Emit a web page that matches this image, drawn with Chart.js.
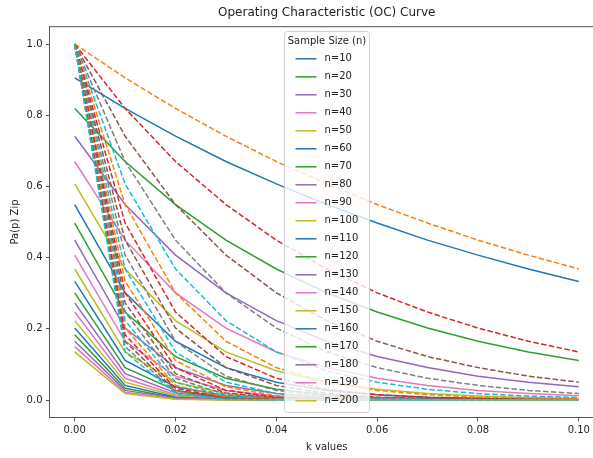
<!DOCTYPE html>
<html>
<head>
<meta charset="utf-8">
<script src="https://cdn.jsdelivr.net/npm/chart.js@4/dist/chart.umd.min.js"></script>
<style>
html, body { margin: 0; padding: 0; background: #fff; overflow: hidden; }
#wrap { width: 593px; height: 458px; overflow: hidden; position: relative; }
#oc { position: absolute; left: 0; top: 0; }
</style>
</head>
<body>
<div id="wrap"><canvas id="oc" width="640" height="458"></canvas></div>
<script>
var kValues = [0, 0.01, 0.02, 0.03, 0.04, 0.05, 0.06, 0.07, 0.08, 0.09, 0.1];
var sampleSizes = [10, 20, 30, 40, 50, 60, 70, 80, 90, 100, 110, 120, 130, 140, 150, 160, 170, 180, 190, 200];
var xTicks = [0, 0.02, 0.04, 0.06, 0.08, 0.1];
var yTicks = [0, 0.2, 0.4, 0.6, 0.8, 1.0];

// solid curves, one per sample size (in legend)
var paSolid = [
  [0.905, 0.819, 0.741, 0.670, 0.607, 0.549, 0.497, 0.449, 0.407, 0.368, 0.333],
  [0.819, 0.670, 0.549, 0.449, 0.368, 0.301, 0.247, 0.202, 0.165, 0.135, 0.111],
  [0.741, 0.549, 0.407, 0.301, 0.223, 0.165, 0.122, 0.091, 0.067, 0.050, 0.037],
  [0.670, 0.449, 0.301, 0.202, 0.135, 0.091, 0.061, 0.041, 0.027, 0.018, 0.012],
  [0.607, 0.368, 0.223, 0.135, 0.082, 0.050, 0.030, 0.018, 0.011, 0.007, 0.004],
  [0.549, 0.301, 0.165, 0.091, 0.050, 0.027, 0.015, 0.008, 0.005, 0.002, 0.001],
  [0.497, 0.247, 0.122, 0.061, 0.030, 0.015, 0.007, 0.004, 0.002, 0.001, 0],
  [0.449, 0.202, 0.091, 0.041, 0.018, 0.008, 0.004, 0.002, 0.001, 0, 0],
  [0.407, 0.165, 0.067, 0.027, 0.011, 0.005, 0.002, 0.001, 0, 0, 0],
  [0.368, 0.135, 0.050, 0.018, 0.007, 0.002, 0.001, 0, 0, 0, 0],
  [0.333, 0.111, 0.037, 0.012, 0.004, 0.001, 0, 0, 0, 0, 0],
  [0.301, 0.091, 0.027, 0.008, 0.002, 0.001, 0, 0, 0, 0, 0],
  [0.273, 0.074, 0.020, 0.006, 0.002, 0, 0, 0, 0, 0, 0],
  [0.247, 0.061, 0.015, 0.004, 0.001, 0, 0, 0, 0, 0, 0],
  [0.223, 0.050, 0.011, 0.002, 0.001, 0, 0, 0, 0, 0, 0],
  [0.202, 0.041, 0.008, 0.002, 0, 0, 0, 0, 0, 0, 0],
  [0.183, 0.033, 0.006, 0.001, 0, 0, 0, 0, 0, 0, 0],
  [0.165, 0.027, 0.005, 0.001, 0, 0, 0, 0, 0, 0, 0],
  [0.150, 0.022, 0.003, 0.001, 0, 0, 0, 0, 0, 0, 0],
  [0.135, 0.018, 0.002, 0, 0, 0, 0, 0, 0, 0, 0]
];

// dashed curves (no legend entry)
var paDashed = [
  [1, 0.905, 0.819, 0.741, 0.670, 0.607, 0.549, 0.497, 0.449, 0.407, 0.368],
  [1, 0.819, 0.670, 0.549, 0.449, 0.368, 0.301, 0.247, 0.202, 0.165, 0.135],
  [1, 0.741, 0.549, 0.407, 0.301, 0.223, 0.165, 0.122, 0.091, 0.067, 0.050],
  [1, 0.670, 0.449, 0.301, 0.202, 0.135, 0.091, 0.061, 0.041, 0.027, 0.018],
  [1, 0.607, 0.368, 0.223, 0.135, 0.082, 0.050, 0.030, 0.018, 0.011, 0.007],
  [1, 0.549, 0.301, 0.165, 0.091, 0.050, 0.027, 0.015, 0.008, 0.005, 0.002],
  [1, 0.497, 0.247, 0.122, 0.061, 0.030, 0.015, 0.007, 0.004, 0.002, 0.001],
  [1, 0.449, 0.202, 0.091, 0.041, 0.018, 0.008, 0.004, 0.002, 0.001, 0],
  [1, 0.407, 0.165, 0.067, 0.027, 0.011, 0.005, 0.002, 0.001, 0, 0],
  [1, 0.368, 0.135, 0.050, 0.018, 0.007, 0.002, 0.001, 0, 0, 0],
  [1, 0.333, 0.111, 0.037, 0.012, 0.004, 0.001, 0, 0, 0, 0],
  [1, 0.301, 0.091, 0.027, 0.008, 0.002, 0.001, 0, 0, 0, 0],
  [1, 0.273, 0.074, 0.020, 0.006, 0.002, 0, 0, 0, 0, 0],
  [1, 0.247, 0.061, 0.015, 0.004, 0.001, 0, 0, 0, 0, 0],
  [1, 0.223, 0.050, 0.011, 0.002, 0.001, 0, 0, 0, 0, 0],
  [1, 0.202, 0.041, 0.008, 0.002, 0, 0, 0, 0, 0, 0],
  [1, 0.183, 0.033, 0.006, 0.001, 0, 0, 0, 0, 0, 0],
  [1, 0.165, 0.027, 0.005, 0.001, 0, 0, 0, 0, 0, 0],
  [1, 0.150, 0.022, 0.003, 0.001, 0, 0, 0, 0, 0, 0],
  [1, 0.135, 0.018, 0.002, 0, 0, 0, 0, 0, 0, 0]
];

var tab10 = ['#1f77b4', '#ff7f0e', '#2ca02c', '#d62728', '#9467bd', '#8c564b', '#e377c2', '#7f7f7f', '#bcbd22', '#17becf'];
var fontFamily = '"DejaVu Sans", sans-serif';

function toPoints(arr) {
    return arr.map(function (v, i) { return { x: kValues[i], y: v }; });
}

var datasets = [];
sampleSizes.forEach(function (n, i) {
    datasets.push({
        label: 'n=' + n,
        data: toPoints(paSolid[i]),
        borderColor: tab10[(2 * i) % 10],
        borderWidth: 1.5,
        pointRadius: 0,
        tension: 0,
        order: -datasets.length
    });
    datasets.push({
        label: '',
        data: toPoints(paDashed[i]),
        borderColor: tab10[(2 * i + 1) % 10],
        borderWidth: 1.5,
        borderDash: [5.5, 2.4],
        pointRadius: 0,
        tension: 0,
        order: -datasets.length
    });
});

// matplotlib style legend in upper center + top spine
var legendBox = {
    id: 'legendBox',
    afterDraw: function (chart) {
        var ctx = chart.ctx, area = chart.chartArea;
        ctx.save();
        ctx.strokeStyle = '#555';
        ctx.lineWidth = 1;
        ctx.beginPath();
        ctx.moveTo(area.left, area.top + 0.5);
        ctx.lineTo(area.right, area.top + 0.5);
        ctx.stroke();

        var items = chart.data.datasets.filter(function (d) { return d.label; });
        var w = 85, rowH = 18, top = Math.round(area.top + 5) + 0.5;
        var h = 27.3 + rowH * (items.length - 1) + 11.7;
        var left = Math.round((area.left + area.right) / 2 - w / 2) + 0.5;
        var r = 3;
        ctx.beginPath();
        ctx.moveTo(left + r, top);
        ctx.arcTo(left + w, top, left + w, top + h, r);
        ctx.arcTo(left + w, top + h, left, top + h, r);
        ctx.arcTo(left, top + h, left, top, r);
        ctx.arcTo(left, top, left + w, top, r);
        ctx.closePath();
        ctx.fillStyle = 'rgba(255,255,255,0.8)';
        ctx.fill();
        ctx.strokeStyle = '#d0d0d0';
        ctx.stroke();

        ctx.font = '10px ' + fontFamily;
        ctx.fillStyle = '#222';
        ctx.textAlign = 'center';
        ctx.textBaseline = 'middle';
        ctx.fillText('Sample Size (n)', left + w / 2, top + 9.7);
        ctx.textAlign = 'left';
        items.forEach(function (d, i) {
            var y = top + 27.3 + i * rowH;
            ctx.strokeStyle = d.borderColor;
            ctx.lineWidth = 1.5;
            ctx.beginPath();
            ctx.moveTo(left + 11, y);
            ctx.lineTo(left + 32, y);
            ctx.stroke();
            ctx.fillText(d.label, left + 40, y);
        });
        ctx.restore();
    }
};

var ctx = document.getElementById('oc').getContext('2d');
var ocChart = new Chart(ctx, {
    type: 'line',
    data: { datasets: datasets },
    options: {
        responsive: false,
        animation: false,
        devicePixelRatio: 1,
        layout: { padding: { left: 0, top: 0, right: 36, bottom: 0 } },
        plugins: {
            legend: { display: false },
            tooltip: { enabled: false },
            title: {
                display: true,
                text: 'Operating Characteristic (OC) Curve',
                color: '#222',
                fullSize: false,
                font: { family: fontFamily, size: 12, weight: 'normal' },
                padding: { top: 5.8, bottom: 6 }
            }
        },
        scales: {
            x: {
                type: 'linear',
                min: -0.005,
                max: 0.105,
                afterBuildTicks: function (s) { s.ticks = xTicks.map(function (v) { return { value: v }; }); },
                afterFit: function (s) { s.height = 40.2; },
                grid: { drawOnChartArea: false, drawTicks: true, tickLength: 3.5, color: '#555' },
                border: { display: true, color: '#555', width: 1 },
                ticks: {
                    color: '#222',
                    padding: 3.5,
                    maxRotation: 0,
                    font: { family: fontFamily, size: 10 },
                    callback: function (v) { return v.toFixed(2); }
                },
                title: {
                    display: true,
                    text: 'k values',
                    color: '#222',
                    font: { family: fontFamily, size: 10 },
                    padding: { top: 0, bottom: 5 }
                }
            },
            y: {
                min: -0.05,
                max: 1.05,
                afterBuildTicks: function (s) { s.ticks = yTicks.map(function (v) { return { value: v }; }); },
                afterFit: function (s) { s.width = 49.5; },
                grid: { drawOnChartArea: false, drawTicks: true, tickLength: 3.5, color: '#555' },
                border: { display: true, color: '#555', width: 1 },
                ticks: {
                    color: '#222',
                    padding: 3.5,
                    font: { family: fontFamily, size: 10 },
                    callback: function (v) { return v.toFixed(1); }
                },
                title: {
                    display: true,
                    text: 'Pa(p) Zip',
                    color: '#222',
                    font: { family: fontFamily, size: 10 },
                    padding: { top: 9, bottom: 0 }
                }
            }
        }
    },
    plugins: [legendBox]
});
</script>
</body>
</html>
